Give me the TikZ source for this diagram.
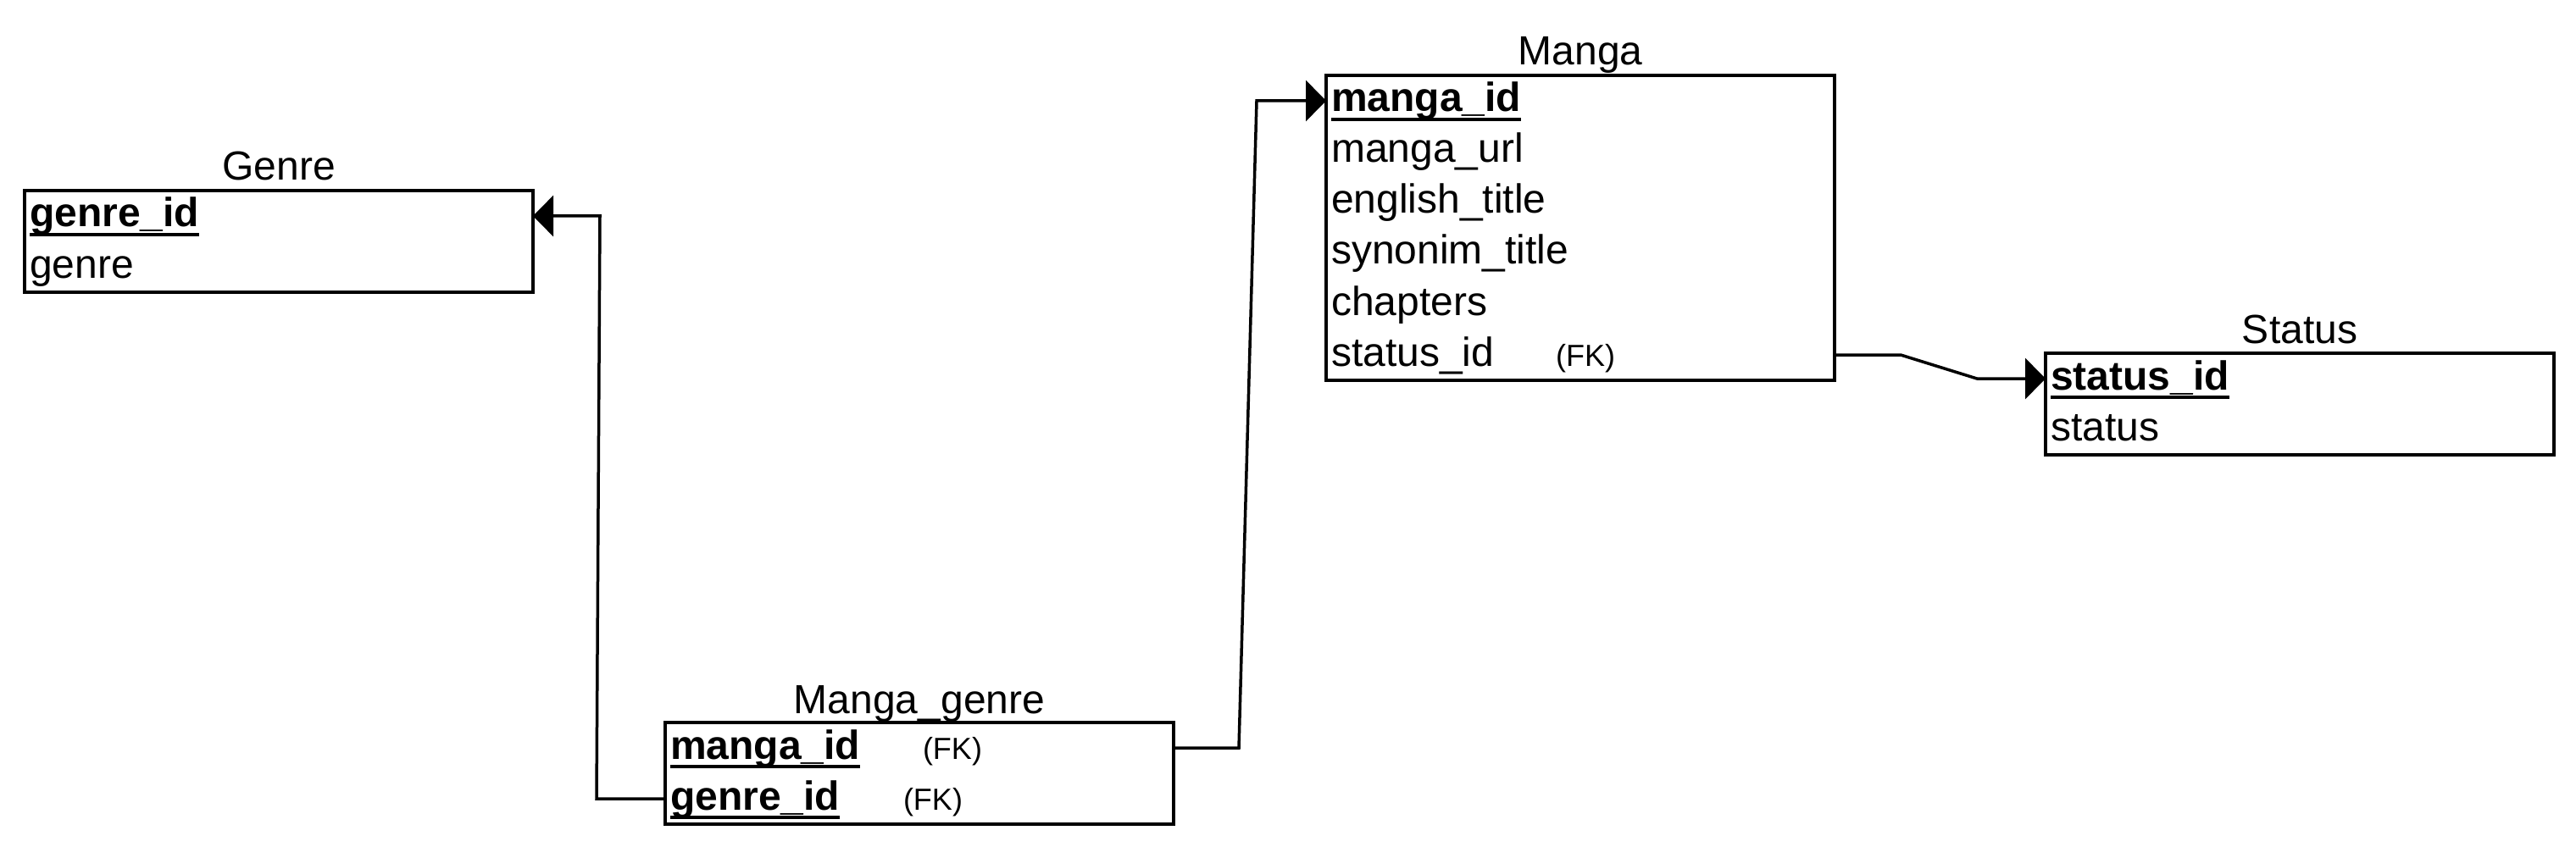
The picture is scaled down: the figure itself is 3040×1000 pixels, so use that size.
\documentclass[tikz,border=0pt]{standalone}
\usepackage{fontspec}
\setmainfont{Liberation Sans}
\usetikzlibrary{arrows.meta,positioning,calc}
\newcommand\keyu[1]{\setbox0=\hbox{\bfseries #1}\rlap{\rule[-0.22em]{\wd0}{0.075em}}\box0}
\newcommand\fkmark{{\fontsize{36pt}{40pt}\selectfont(FK)}}
\begin{document}
\begin{tikzpicture}[x=1pt,y=1pt,
  tbl/.style={draw, line width=4pt, minimum width=600pt, anchor=north west, inner sep=0pt, outer sep=0pt},
  row/.style={inner xsep=6pt, inner ysep=4.5pt, outer sep=0pt, text width=588pt, align=left,
              text height=38.5pt, text depth=12.5pt, anchor=north west, font=\fontsize{48pt}{56pt}\selectfont},
  ttl/.style={anchor=base, inner sep=0pt, font=\fontsize{48pt}{56pt}\selectfont},
  conn/.style={line width=3.5pt, -{Triangle[length=24pt,width=48pt]}, line join=miter}]
\fill[white] (0,0) rectangle (3040,-1000);
\useasboundingbox (0,0) rectangle (3040,-1000);

% Genre
\node[tbl, minimum height=120pt] (genre) at (29,-225) {};
\node[ttl] (genret) at ($(genre.north)+(0,12)$) {Genre};
\node[row] (g1) at (genre.north west) {\keyu{genre\_id}};
\node[row, below=0pt of g1] (g2) {genre};

% Manga
\node[tbl, minimum height=360pt] (manga) at (1565,-89) {};
\node[ttl] (mangat) at ($(manga.north)+(0,12)$) {Manga};
\node[row] (m1) at (manga.north west) {\keyu{manga\_id}};
\node[row, below=0pt of m1] (m2) {manga\_url};
\node[row, below=0pt of m2] (m3) {english\_title};
\node[row, below=0pt of m3] (m4) {synonim\_title};
\node[row, below=0pt of m4] (m5) {chapters};
\node[row, below=0pt of m5] (m6) {\makebox[265pt][l]{status\_id}\fkmark};

% Status
\node[tbl, minimum height=120pt] (status) at (2414,-417) {};
\node[ttl] (statust) at ($(status.north)+(0,12)$) {Status};
\node[row] (s1) at (status.north west) {\keyu{status\_id}};
\node[row, below=0pt of s1] (s2) {status};

% Manga_genre
\node[tbl, minimum height=120pt] (mg) at (785,-853) {};
\node[ttl] (mgt) at ($(mg.north)+(0,11)$) {Manga\_genre};
\node[row] (mg1) at (mg.north west) {\makebox[298pt][l]{\keyu{manga\_id}}\fkmark};
\node[row, below=0pt of mg1] (mg2) {\makebox[275pt][l]{\keyu{genre\_id}}\fkmark};

% Connectors
\draw[conn] (mg2.west) -- ++(-81,0) -- ($(g1.east)+(79,0)$) -- (g1.east);
\draw[conn] (mg1.east) -- ++(77,0) -- ($(m1.west)+(-82,0)$) -- (m1.west);
\draw[conn] (m6.east) -- ++(78,0) -- ($(s1.west)+(-81,0)$) -- (s1.west);
\end{tikzpicture}
\end{document}
